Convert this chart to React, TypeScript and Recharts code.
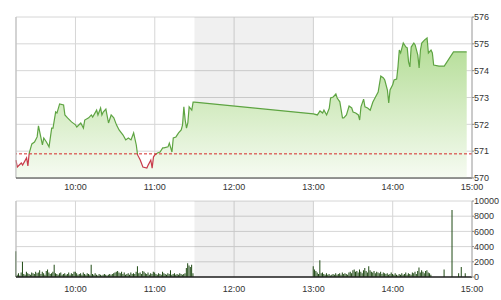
import { ComposedChart, Area, Bar, XAxis, YAxis, CartesianGrid, ReferenceArea, ReferenceLine } from "recharts"

const amTimes = [
  "09:15", "09:16", "09:19", "09:20", "09:23", "09:24", "09:25", "09:27", "09:29", "09:31",
  "09:32", "09:35", "09:36", "09:38", "09:40", "09:42", "09:43", "09:45", "09:46", "09:48",
  "09:51", "09:52", "09:54", "09:57", "10:00", "10:01", "10:04", "10:06", "10:07", "10:10",
  "10:12", "10:13", "10:16", "10:17", "10:19", "10:20", "10:21", "10:23", "10:25", "10:27",
  "10:29", "10:31", "10:33", "10:36", "10:38", "10:40", "10:42", "10:44", "10:46", "10:47",
  "10:49", "10:51", "10:54", "10:55", "10:57", "10:58", "10:59", "11:00", "11:02", "11:04",
  "11:06", "11:07", "11:10", "11:11", "11:13", "11:14", "11:16", "11:18", "11:20", "11:21",
  "11:22", "11:23", "11:24", "11:25", "11:26", "11:28", "11:29", "11:30",
]
const amPrices = [
  570.67, 570.41, 570.56, 570.48, 570.75, 570.45, 570.93, 571.27, 571.34, 571.53,
  571.94, 571.23, 571.49, 571.34, 571.16, 571.86, 571.86, 572.46, 572.42, 572.76,
  572.72, 572.35, 572.24, 572.09, 571.98, 571.9, 572.05, 571.86, 572.16, 572.24,
  572.35, 572.27, 572.53, 572.35, 572.61, 572.35, 572.46, 572.57, 572.05, 572.35,
  572.24, 571.98, 571.79, 571.6, 571.42, 571.49, 571.42, 571.68, 571.23, 570.86,
  570.67, 570.41, 570.37, 570.48, 570.67, 570.37, 570.78, 570.86, 570.93, 570.97,
  571.12, 571.12, 571.16, 571.3, 570.97, 571.49, 571.53, 571.68, 571.79, 571.98,
  572.65, 572.16, 571.86, 572.05, 572.65, 572.53, 572.83, 572.83,
]
const pmTimes = [
  "13:00", "13:03", "13:05", "13:07", "13:08", "13:10", "13:12", "13:13", "13:15", "13:17",
  "13:18", "13:20", "13:22", "13:23", "13:25", "13:27", "13:29", "13:30", "13:32", "13:34",
  "13:35", "13:36", "13:38", "13:39", "13:41", "13:43", "13:45", "13:47", "13:49", "13:51",
  "13:53", "13:54", "13:56", "13:57", "13:58", "14:00", "14:01", "14:03", "14:04", "14:05",
  "14:06", "14:07", "14:08", "14:10", "14:11", "14:12", "14:13", "14:14", "14:16", "14:17",
  "14:19", "14:20", "14:21", "14:22", "14:24", "14:26", "14:27", "14:29", "14:30", "14:31",
  "14:35", "14:39", "14:46", "14:56",
]
const pmPrices = [
  572.39, 572.35, 572.5, 572.42, 572.53, 572.35, 572.6, 572.98, 573.02, 573.13,
  572.98, 572.84, 572.24, 572.24, 572.35, 572.68, 572.61, 572.46, 572.42, 572.35,
  572.16, 572.65, 572.94, 572.65, 572.61, 572.53, 572.83, 573.02, 573.2, 573.8,
  573.73, 573.65, 573.28, 572.8, 573.28, 573.47, 573.65, 573.69, 574.14, 574.77,
  574.66, 574.85, 575.03, 574.88, 574.85, 574.33, 574.14, 574.88, 575.03, 574.96,
  574.58, 574.1, 574.77, 575.03, 575.14, 575.22, 574.66, 574.77, 574.66, 574.21,
  574.17, 574.17, 574.7, 574.7,
]
const refPrice = 570.9

// volume per minute, morning starts 09:15, afternoon starts 13:00
const amVolStart = "09:15"
const amVolumes = [
  3400, 300, 500, 200, 600, 2000, 400, 300, 700, 500, 400, 300, 600, 500, 400,
  700, 500, 600, 900, 400, 700, 500, 300, 800, 1000, 600, 400, 500, 700, 1600,
  500, 400, 300, 500, 600, 300, 400, 500, 300, 400, 600, 300, 500, 400, 700,
  700, 500, 300, 400, 500, 300, 600, 400, 300, 500, 400, 300, 1600, 400, 300,
  500, 300, 200, 400, 300, 200, 300, 400, 300, 200, 300, 400, 300, 400, 500,
  600, 700, 800, 600, 500, 700, 400, 600, 300, 400, 500, 300, 600, 400, 500,
  400, 700, 1400, 500, 600, 400, 800, 700, 500, 400, 600, 300, 500, 400, 700,
  600, 400, 300, 500, 400, 300, 700, 500, 400, 300, 500, 400, 900, 300, 400,
  500, 300, 400, 300, 500, 400, 300, 400, 500, 1200, 1800, 1500, 1300, 1600, 500,
]
const pmVolStart = "13:00"
const pmVolumes = [
  1400, 1000, 800, 600, 400, 2200, 500, 600, 400, 300, 500, 300, 400, 200, 300,
  400, 300, 500, 300, 400, 500, 300, 600, 400, 500, 400, 300, 600, 700, 500,
  900, 1000, 700, 800, 600, 1000, 700, 500, 900, 1200, 800, 600, 1400, 900, 700,
  600, 800, 500, 700, 600, 500, 700, 400, 600, 500, 400, 500, 300, 400, 600,
  400, 300, 500, 300, 200, 400, 300, 500, 300, 400, 600, 300, 500, 400, 300,
  600, 500, 700, 400, 800, 1250, 600, 900, 700, 500, 800, 900, 600, 500, 300,
]
const lateTimes = ["14:39", "14:45", "14:50", "14:52", "14:55"]
const lateVolumes = [1000, 8800, 500, 1300, 500]

const timeTicks = ["10:00", "11:00", "12:00", "13:00", "14:00", "15:00"]
const priceTicks = [570, 571, 572, 573, 574, 575, 576]
const volumeTicks = [0, 2000, 4000, 6000, 8000, 10000]
const sessionOpen = "09:15"
const sessionClose = "15:00"
const lunchStart = "11:30"
const lunchEnd = "13:00"

const toMin = (s: string) => {
  const [h, m] = s.split(":").map(Number)
  return h * 60 + m
}
const fmt = (v: number) => `${String(Math.floor(v / 60)).padStart(2, "0")}:${String(v % 60).padStart(2, "0")}`

const priceData = [
  ...amTimes.map((t, i) => ({ t: toMin(t), p: amPrices[i] })),
  ...pmTimes.map((t, i) => ({ t: toMin(t), p: pmPrices[i] })),
]
const volumeData = [
  ...amVolumes.map((v, i) => ({ t: toMin(amVolStart) + i, v })),
  ...pmVolumes.map((v, i) => ({ t: toMin(pmVolStart) + i, v })),
  ...lateTimes.map((t, i) => ({ t: toMin(t), v: lateVolumes[i] })),
]

const allPrices = priceData.map((d) => d.p)
const pMax = Math.max(...allPrices)
const pMin = Math.min(...allPrices)
const splitAt = (pMax - refPrice) / (pMax - pMin)

const domainX = [toMin(sessionOpen), toMin(sessionClose)]
const tickStyle = { fontSize: 9, fill: "#333", fontFamily: "'Liberation Sans', Arial, sans-serif" }
const gridColor = "#d6d6d6"

export default function App() {
  return (
    <div style={{ position: "absolute", left: 0, top: 0, width: 501, height: 300, background: "#fff" }}>
      <ComposedChart width={501} height={192} data={priceData} margin={{ top: 17, right: 0, left: 16, bottom: 0 }}>
        <defs>
          <linearGradient id="priceFill" x1="0" y1="0" x2="0" y2="1">
            <stop offset="0%" stopColor="#b2dc93" />
            <stop offset="100%" stopColor="#f6fbf2" />
          </linearGradient>
          <linearGradient id="priceLine" x1="0" y1="0" x2="0" y2="1">
            <stop offset={splitAt} stopColor="#5ea442" />
            <stop offset={splitAt} stopColor="#c83a4a" />
          </linearGradient>
        </defs>
        <CartesianGrid stroke={gridColor} />
        <ReferenceArea x1={toMin(lunchStart)} x2={toMin(lunchEnd)} fill="#000" fillOpacity={0.06} stroke="none" />
        <XAxis
          dataKey="t"
          type="number"
          domain={domainX}
          ticks={timeTicks.map(toMin)}
          tickFormatter={fmt}
          height={14}
          tickLine={false}
          tickSize={3}
          tickMargin={3}
          axisLine={{ stroke: "#333" }}
          tick={tickStyle}
          interval={0}
        />
        <YAxis
          orientation="right"
          domain={[570, 576]}
          ticks={priceTicks}
          width={29}
          tickSize={2}
          tickMargin={0}
          axisLine={{ stroke: "#aaa" }}
          tickLine={{ stroke: "#888" }}
          tick={{ ...tickStyle, textAnchor: "start" }}
          interval={0}
        />
        <Area
          dataKey="p"
          type="linear"
          stroke="url(#priceLine)"
          strokeWidth={1.2}
          fill="url(#priceFill)"
          fillOpacity={1}
          baseValue={570}
          isAnimationActive={false}
          dot={false}
          activeDot={false}
        />
        <ReferenceLine y={refPrice} stroke="#d42a2a" strokeDasharray="3 2" />
        <ReferenceLine x={domainX[0]} stroke="#bbb" />
      </ComposedChart>
      <ComposedChart width={501} height={108} data={volumeData} margin={{ top: 9, right: 0, left: 16, bottom: 0 }}>
        <CartesianGrid stroke={gridColor} />
        <ReferenceArea x1={toMin(lunchStart)} x2={toMin(lunchEnd)} fill="#000" fillOpacity={0.06} stroke="none" />
        <XAxis
          dataKey="t"
          type="number"
          domain={domainX}
          ticks={timeTicks.map(toMin)}
          tickFormatter={fmt}
          height={23}
          tickLine={false}
          tickSize={6}
          tickMargin={3}
          axisLine={{ stroke: "#222", strokeWidth: 1.5 }}
          tick={tickStyle}
          interval={0}
        />
        <YAxis
          orientation="right"
          domain={[0, 10000]}
          ticks={volumeTicks}
          width={29}
          tickSize={2}
          tickMargin={0}
          axisLine={{ stroke: "#aaa" }}
          tickLine={{ stroke: "#888" }}
          tick={{ ...tickStyle, textAnchor: "start" }}
          interval={0}
        />
        <Bar dataKey="v" fill="#1f4a14" barSize={1} isAnimationActive={false} />
        <ReferenceLine x={domainX[0]} stroke="#bbb" />
      </ComposedChart>
    </div>
  )
}
